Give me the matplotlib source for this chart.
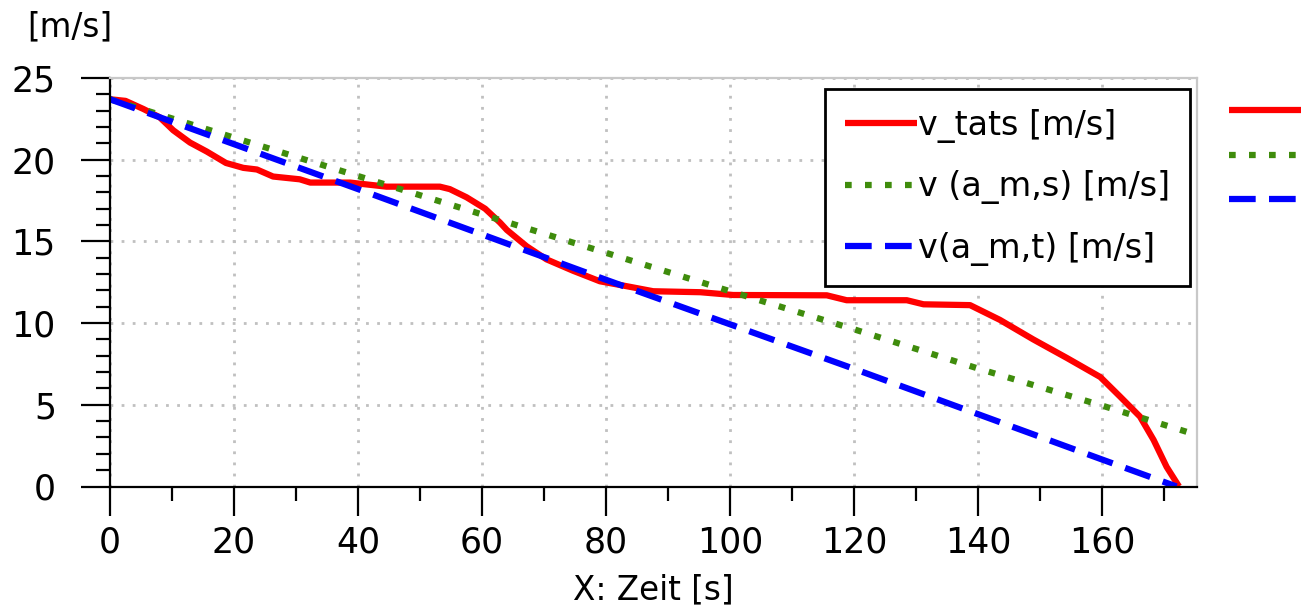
import matplotlib
matplotlib.use("Agg")
import matplotlib.pyplot as plt
from matplotlib.ticker import MultipleLocator

plt.rcParams['font.family'] = ['DejaVu Sans']

# v_tats [m/s]
t_tats = [0, 2.5, 5.4, 8, 10.2, 12.9, 15.6, 18.7, 21.5, 23.7, 26.3, 30.6, 32.3, 38.7,
          44.6, 53.2, 54.8, 57.5, 60.5, 62.9, 64, 67.2, 70.4, 74.7, 79, 83.3, 87.6,
          95.2, 100.5, 115.6, 118.8, 128.5, 131.2, 138.7, 143.5, 148.9, 154.3, 159.7,
          162.9, 166.1, 168.3, 170.4, 172.4]
v_tats = [23.7, 23.6, 23.1, 22.6, 21.8, 21.05, 20.5, 19.8, 19.5, 19.4, 18.97, 18.8, 18.6, 18.6,
          18.35, 18.35, 18.2, 17.7, 17.0, 16.15, 15.7, 14.7, 13.9, 13.2, 12.56, 12.26, 11.95,
          11.89, 11.72, 11.7, 11.4, 11.4, 11.15, 11.1, 10.2, 9.0, 7.87, 6.7,
          5.5, 4.28, 2.85, 1.2, 0.0]

# v (a_m,s) [m/s]
t_ams = [0, 20, 40, 60, 80, 100, 120, 140, 160, 175.3]
v_ams = [23.7, 21.35, 19.0, 16.65, 14.3, 11.95, 9.62, 7.22, 4.95, 3.15]

# v(a_m,t) [m/s]
t_amt = [0, 40, 80, 120, 160, 172]
v_amt = [23.7, 18.2, 12.65, 7.2, 1.65, 0.0]

labels = ["v_tats [m/s]", "v (a_m,s) [m/s]", "v(a_m,t) [m/s]"]

fig = plt.figure(figsize=(13.15, 6.11), dpi=100)
ax = fig.add_axes([110 / 1315, 1 - 486.5 / 611, 1087 / 1315, 408.5 / 611])

lw = 4.5
l1, = ax.plot(t_tats, v_tats, color="#ff0000", lw=lw, solid_capstyle="butt")
l2, = ax.plot(t_ams, v_ams, color="#3f8c0c", lw=lw, linestyle=(0, (1.07, 2.13)),
              dash_capstyle="butt")
l3, = ax.plot(t_amt, v_amt, color="#0000ff", lw=lw, linestyle=(0, (4.27, 2.13)),
              dash_capstyle="butt")

ax.set_xlim(0, 175.3)
ax.set_ylim(0, 25)
ax.xaxis.set_major_locator(MultipleLocator(20))
ax.xaxis.set_minor_locator(MultipleLocator(10))
ax.yaxis.set_major_locator(MultipleLocator(5))
ax.yaxis.set_minor_locator(MultipleLocator(1))

ax.grid(True, which="major", color="#c0c0c0", linestyle=(0, (1, 3)), lw=2)
ax.set_axisbelow(True)

for s in ["left", "bottom"]:
    ax.spines[s].set_linewidth(1.6)
    ax.spines[s].set_color("black")
for s in ["top", "right"]:
    ax.spines[s].set_linewidth(1.6)
    ax.spines[s].set_color("#c8c8c8")

ax.tick_params(which="major", direction="out", length=21, width=1.6, labelsize=25)
ax.tick_params(which="minor", direction="out", length=10, width=1.6)
ax.tick_params(axis="y", which="major", pad=18)
ax.tick_params(axis="x", which="major", pad=7)

ax.set_xlabel("X: Zeit [s]", fontsize=23.5, labelpad=10)
ax.text(-0.076, 1.125, "[m/s]", transform=ax.transAxes, fontsize=23.5,
        ha="left", va="center")

leg = ax.legend([l1, l2, l3], labels, loc="upper right", bbox_to_anchor=(0.994, 0.973),
                fontsize=24, frameon=True, fancybox=False, framealpha=1,
                handlelength=2.16, handletextpad=0.05, labelspacing=0.82,
                borderpad=0.6, borderaxespad=0)
leg.get_frame().set_edgecolor("black")
leg.get_frame().set_linewidth(2)

leg2 = fig.legend([l1, l2, l3], [" ", " ", " "], loc="upper left",
                  bbox_to_anchor=(1229 / 1315, 1 - 98 / 611), fontsize=22,
                  frameon=False, handlelength=2.35, handletextpad=0,
                  labelspacing=0.5, borderpad=0, borderaxespad=0)

fig.savefig("out.png", dpi=100)
